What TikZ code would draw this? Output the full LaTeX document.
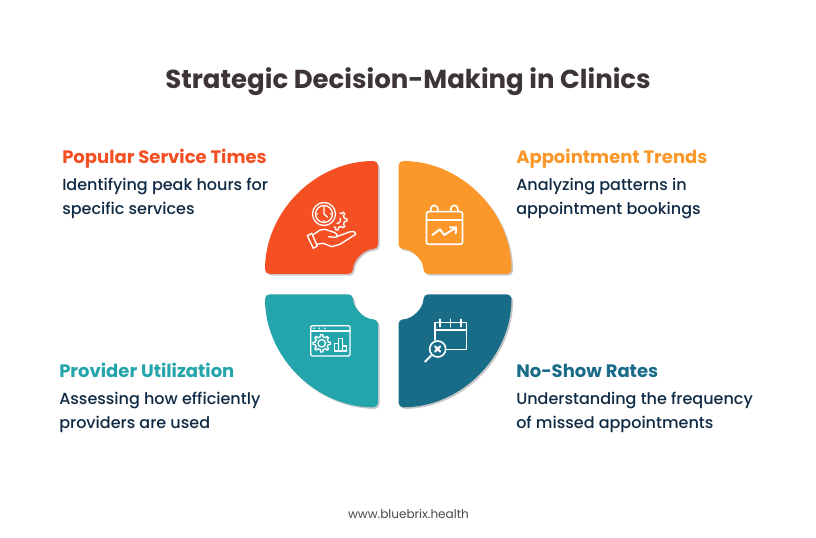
\documentclass[tikz,border=0pt]{standalone}
\usepackage{xcolor}
\usepackage{fontspec}
\setmainfont{Poppins Medium}
\newfontfamily\headfont{Poppins}
\usepackage{tikz}
\usetikzlibrary{shadows,positioning}
\definecolor{redc}{HTML}{F45024}
\definecolor{orangec}{HTML}{FC9729}
\definecolor{tealc}{HTML}{23A5AB}
\definecolor{bluec}{HTML}{196C88}
\definecolor{inkc}{HTML}{0F2A44}
\definecolor{titlec}{HTML}{3D3535}
\definecolor{footc}{HTML}{4A4A4A}

\begin{document}
\begin{tikzpicture}[
    x=0.75pt, y=0.75pt,
    petal/.style={rounded corners=3.5pt, drop shadow={shadow xshift=1.2pt, shadow yshift=-1.2pt, opacity=0.3, fill=black!70}},
    icon/.style={draw=white, line width=1pt, line cap=round, line join=round},
    head/.style={anchor=base west, inner sep=0pt, font=\headfont\bfseries\fontsize{13.5}{16}\selectfont},
    desc/.style={anchor=base west, inner sep=0pt, text=inkc, font=\fontsize{12}{14}\selectfont}
]
    \useasboundingbox (-389,-254) rectangle (427,284);
    \fill[white] (-389,-254) rectangle (427,284);

    % Title
    \node[font=\headfont\bfseries\fontsize{19.5}{24}\selectfont, text=titlec] (title) at (19,202.5) {Strategic Decision-Making in Clinics};

    % Petals
    \fill[petal, redc] (-124,10) arc (180:90:113) -- (-11,35) arc (90:180:25) -- cycle;
    \fill[petal, orangec] (122.5,10) arc (0:90:113) -- (9.5,35) arc (90:0:25) -- cycle;
    \fill[petal, tealc] (-124,-10.3) arc (180:270:113) -- (-11,-35.3) arc (270:180:25) -- cycle;
    \fill[petal, bluec] (122.5,-10.3) arc (0:-90:113) -- (9.5,-35.3) arc (-90:0:25) -- cycle;

    % Top left labels
    \node[head, text=redc] (popular) at (-327,120) {Popular Service Times};
    \node[desc] (popular1) at (-327,93) {Identifying peak hours for};
    \node[desc] (popular2) at (-327,69) {specific services};

    % Top right labels
    \node[head, text=orangec] (trends) at (127,120) {Appointment Trends};
    \node[desc] (trends1) at (127,93) {Analyzing patterns in};
    \node[desc] (trends2) at (127,69) {appointment bookings};

    % Bottom left labels
    \node[head, text=tealc] (provider) at (-330,-94) {Provider Utilization};
    \node[desc] (provider1) at (-330,-121) {Assessing how efficiently};
    \node[desc] (provider2) at (-330,-145) {providers are used};

    % Bottom right labels
    \node[head, text=bluec] (noshow) at (127,-94) {No-Show Rates};
    \node[desc] (noshow1) at (127,-121) {Understanding the frequency};
    \node[desc] (noshow2) at (127,-145) {of missed appointments};

    % Footer
    \node[font=\headfont\fontsize{9.05}{11}\selectfont, text=footc] (footer) at (19.5,-229.5) {www.bluebrix.health};

    % Clock and hand icon
    \begin{scope}[shift={(-52,64)}]
        \foreach \ang in {-90,-45,0,45} \draw[icon] (\ang-22.5:7.6) -- (\ang-11:7.6) -- (\ang-7:10) -- (\ang+7:10) -- (\ang+11:7.6) -- (\ang+22.5:7.6);
        \draw[icon] (-90:3.6) arc (-90:30:3.6);
    \end{scope}
    \draw[icon] (-65,70) circle (11.5);
    \draw[icon] (-65,70) circle (8.5);
    \draw[icon] (-65,75.5) -- (-65,70) -- (-61.5,67);
    \foreach \ang in {0,90,180,270} \draw[icon] (-65,70) ++(\ang:6.8) -- ++(\ang:0.4);
    \draw[icon] (-76.3,49) -- (-69,54) -- (-64,54.7) -- (-54,51.3) -- (-51.7,49) -- (-53,46.7) -- (-60.7,47.3);
    \draw[icon] (-52.3,47.3) -- (-39,52.3) -- (-34.7,52.3) -- (-33.3,49.7) -- (-49,39.7) -- (-57.3,37.3) -- (-65.7,40.7) -- (-72.3,39.7);
    \draw[icon] (-81.7,48.3) -- (-77.3,50.7) -- (-71.7,38) -- (-75.7,35.7) -- cycle;

    % Calendar and trend icon
    \draw[icon, line width=1.2pt, rounded corners=1.5pt] (37.5,72.3) rectangle (73.5,39.7);
    \draw[icon, line width=1.2pt] (37.5,64) -- (73.5,64);
    \draw[icon, line width=1.2pt] (41.7,72.3) -- (41.7,75) arc (180:0:3.6) -- (48.9,72.3);
    \draw[icon, line width=1.2pt] (61.7,72.3) -- (61.7,75) arc (180:0:3.6) -- (68.9,72.3);
    \draw[icon, line width=1.5pt] (43.3,49) -- (51,54.7) -- (55.3,49) -- (66.7,56.3);
    \draw[icon, line width=1.5pt] (61,56.7) -- (67,56.7) -- (66.7,50.7);

    % Window and settings icon
    \draw[icon, rounded corners=1pt] (-78.3,-41.7) rectangle (-39,-72);
    \draw[icon] (-78.3,-47) -- (-39,-47);
    \foreach \dotx in {-75,-69.7,-64} \fill[white] (\dotx,-44.3) circle (0.9);
    \begin{scope}[shift={(-67.3,-59.3)}]
        \draw[icon] (0,0) circle (3.8);
        \foreach \ang in {0,45,...,315} \draw[icon] (\ang-22.5:6.6) -- (\ang-11:6.6) -- (\ang-7:8.8) -- (\ang+7:8.8) -- (\ang+11:6.6) -- (\ang+22.5:6.6);
    \end{scope}
    \draw[icon] (-54.7,-67) rectangle (-50.7,-59.3) (-50.7,-67) rectangle (-46.3,-54.3) (-46.3,-67) rectangle (-42.3,-62);

    % Calendar and magnifier icon
    \draw[icon, line width=1.1pt] (46,-56) -- (46,-38.7) -- (77.7,-38.7) -- (77.7,-65.3) -- (57.7,-65.3);
    \draw[icon, line width=1.1pt] (46,-46) -- (77.7,-46);
    \draw[icon, line width=1.1pt] (51,-35.3) -- (51,-42.7) (61.7,-35.3) -- (61.7,-42.7) (72,-35.3) -- (72,-42.7);
    \draw[icon, line width=1.2pt] (48.7,-65) circle (8);
    \draw[icon, line width=1.6pt] (46.2,-62.5) -- (51.2,-67.5) (51.2,-62.5) -- (46.2,-67.5);
    \draw[icon, line width=1.5pt] (42,-71.7) -- (36,-77.7);
\end{tikzpicture}
\end{document}
